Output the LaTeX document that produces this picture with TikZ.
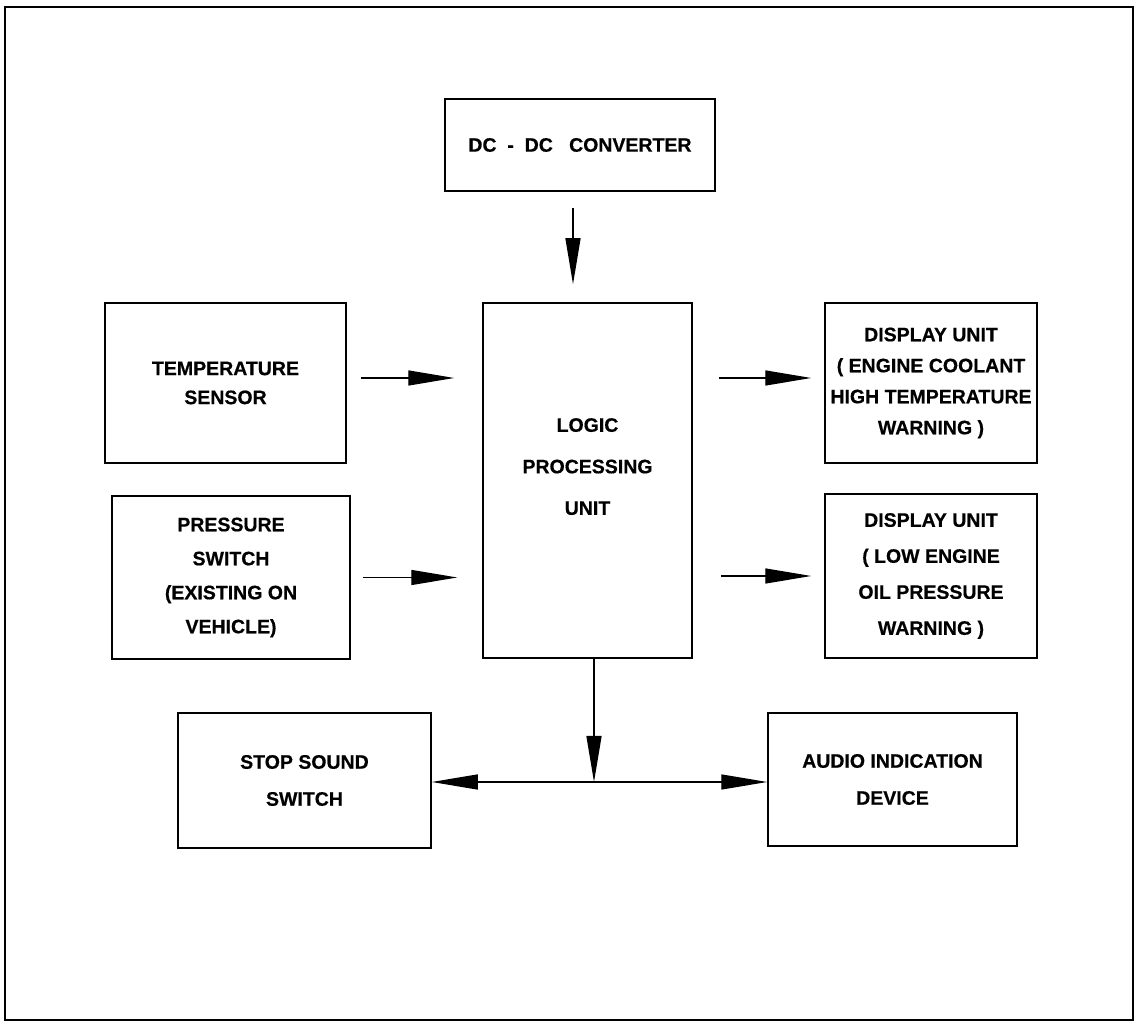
\documentclass[tikz,border=0pt]{standalone}
\usepackage{fontspec}
\setmainfont{Liberation Sans}[FakeBold=0.5]
\usetikzlibrary{arrows.meta,calc}
\tikzset{>={Triangle[length=46pt,width=15pt]}}
\tikzset{blok/.style={draw, line width=1.5pt, align=center}}
\tikzset{spoj/.style={line width=1.4pt}}
\newcommand{\blokfont}[1]{\fontsize{19.5}{#1}\selectfont\bfseries}

\begin{document}
\begin{tikzpicture}[x=1pt,y=1pt]

	\useasboundingbox (0,0) rectangle (1147,1024);
	\draw [line width=1.6pt] (5,4) rectangle (1133,1017);

	\node[blok, minimum width=270pt, minimum height=92pt, font={\blokfont{24}}] (dcdc) at (580,879) {DC\ \ -\ \ DC\ \ \ CONVERTER};
	\node[blok, minimum width=209pt, minimum height=355pt, font={\blokfont{41.5}}, text depth=28pt] (logic) at (587.5,543.5) {LOGIC\\PROCESSING\\UNIT};

	\node[blok, minimum width=241pt, minimum height=160pt, font={\blokfont{29}}] (tempsens) at (225.5,641) {TEMPERATURE\\SENSOR};
	\node[blok, minimum width=238pt, minimum height=163pt, font={\blokfont{34}}] (pressw) at (231,446.5) {PRESSURE\\SWITCH\\(EXISTING ON\\VEHICLE)};

	\node[blok, minimum width=212pt, minimum height=160pt, font={\blokfont{31}}] (dispcool) at (931,641) {DISPLAY UNIT\\( ENGINE COOLANT\\HIGH TEMPERATURE\\WARNING )};
	\node[blok, minimum width=212pt, minimum height=164pt, font={\blokfont{36}}] (dispoil) at (931,448) {DISPLAY UNIT\\( LOW ENGINE\\OIL PRESSURE\\WARNING )};

	\node[blok, minimum width=253pt, minimum height=135pt, font={\blokfont{37}}] (stopsw) at (304.5,243.5) {STOP SOUND\\SWITCH};
	\node[blok, minimum width=249pt, minimum height=133pt, font={\blokfont{37}}] (audiodev) at (892.5,244.5) {AUDIO INDICATION\\DEVICE};

	\coordinate (junc) at (594,242);

	\draw [spoj,->,shorten <=16pt,shorten >=18pt] ([xshift=-7pt]dcdc.south) -- ([xshift=-7pt]dcdc.south |- logic.north);

	\draw [spoj,->,shorten <=14pt,shorten >=28pt] ([yshift=5pt]tempsens.east) -- ([yshift=5pt]tempsens.east -| logic.west);
	\draw [spoj,->,shorten <=12pt,shorten >=25pt] (pressw.east) -- (pressw.east -| logic.west);

	\draw [spoj,->,shorten <=26pt,shorten >=13pt] ([yshift=5pt]dispcool.west -| logic.east) -- ([yshift=5pt]dispcool.west);
	\draw [spoj,->,shorten <=28pt,shorten >=13pt] (dispoil.west -| logic.east) -- (dispoil.west);

	\draw [spoj,->] (junc |- logic.south) -- (junc);
	\draw [spoj,->] (junc) -- (junc -| stopsw.east);
	\draw [spoj,->] (junc) -- (junc -| audiodev.west);

\end{tikzpicture}
\end{document}
